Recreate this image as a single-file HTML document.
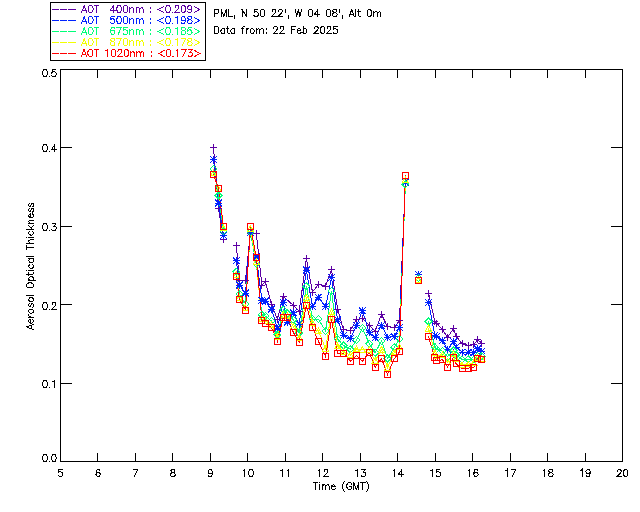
<!DOCTYPE html>
<html><head><meta charset="utf-8"><style>
html,body{margin:0;padding:0;background:#fff;width:640px;height:512px;overflow:hidden}
svg{position:absolute;left:0;top:0}
text{font-family:"Liberation Sans",sans-serif}
</style></head><body>
<svg width="640" height="512" viewBox="0 0 640 512">
<g shape-rendering="crispEdges" stroke="#000" stroke-width="1" fill="none">
<rect x="60.5" y="69.5" width="562" height="392"/>
<line x1="97.5" y1="461.5" x2="97.5" y2="452.5"/>
<line x1="97.5" y1="69.5" x2="97.5" y2="77.5"/>
<line x1="135.5" y1="461.5" x2="135.5" y2="452.5"/>
<line x1="135.5" y1="69.5" x2="135.5" y2="77.5"/>
<line x1="172.5" y1="461.5" x2="172.5" y2="452.5"/>
<line x1="172.5" y1="69.5" x2="172.5" y2="77.5"/>
<line x1="210.5" y1="461.5" x2="210.5" y2="452.5"/>
<line x1="210.5" y1="69.5" x2="210.5" y2="77.5"/>
<line x1="247.5" y1="461.5" x2="247.5" y2="452.5"/>
<line x1="247.5" y1="69.5" x2="247.5" y2="77.5"/>
<line x1="285.5" y1="461.5" x2="285.5" y2="452.5"/>
<line x1="285.5" y1="69.5" x2="285.5" y2="77.5"/>
<line x1="322.5" y1="461.5" x2="322.5" y2="452.5"/>
<line x1="322.5" y1="69.5" x2="322.5" y2="77.5"/>
<line x1="360.5" y1="461.5" x2="360.5" y2="452.5"/>
<line x1="360.5" y1="69.5" x2="360.5" y2="77.5"/>
<line x1="397.5" y1="461.5" x2="397.5" y2="452.5"/>
<line x1="397.5" y1="69.5" x2="397.5" y2="77.5"/>
<line x1="435.5" y1="461.5" x2="435.5" y2="452.5"/>
<line x1="435.5" y1="69.5" x2="435.5" y2="77.5"/>
<line x1="472.5" y1="461.5" x2="472.5" y2="452.5"/>
<line x1="472.5" y1="69.5" x2="472.5" y2="77.5"/>
<line x1="510.5" y1="461.5" x2="510.5" y2="452.5"/>
<line x1="510.5" y1="69.5" x2="510.5" y2="77.5"/>
<line x1="547.5" y1="461.5" x2="547.5" y2="452.5"/>
<line x1="547.5" y1="69.5" x2="547.5" y2="77.5"/>
<line x1="585.5" y1="461.5" x2="585.5" y2="452.5"/>
<line x1="585.5" y1="69.5" x2="585.5" y2="77.5"/>
<line x1="60.5" y1="383.5" x2="71.5" y2="383.5"/>
<line x1="622.5" y1="383.5" x2="610.5" y2="383.5"/>
<line x1="60.5" y1="304.5" x2="71.5" y2="304.5"/>
<line x1="622.5" y1="304.5" x2="610.5" y2="304.5"/>
<line x1="60.5" y1="226.5" x2="71.5" y2="226.5"/>
<line x1="622.5" y1="226.5" x2="610.5" y2="226.5"/>
<line x1="60.5" y1="147.5" x2="71.5" y2="147.5"/>
<line x1="622.5" y1="147.5" x2="610.5" y2="147.5"/>
<rect x="50.5" y="2.5" width="155" height="58"/>
</g>
<g fill="none" stroke-width="1" shape-rendering="crispEdges">
<polyline points="213.5,147.5 218.5,208.5 223.5,239.0" stroke="#5c00a3"/>
<polyline points="236.3,245.4 239.4,280.0 245.5,280.5 250.4,233.0 256.3,233.5 261.9,285.5 265.3,281.4 271.4,304.0 277.4,319.3 283.3,296.4 293.4,305.5 299.2,311.0 306.4,258.5 312.4,292.0 318.4,284.4 325.6,286.2 331.5,269.4 337.6,309.1 343.5,329.75 350.4,330.4 356.5,319.75 362.4,318.5 369.3,325.4 375.2,331.0 381.5,314.5 387.5,326.6 394.3,327.9 399.5,320.4 405.4,182.0" stroke="#5c00a3"/>
<polyline points="428.5,293.25 434.8,321.4 436.6,323.0 442.4,329.6 447.5,337.3 453.6,328.6 456.0,336.0 462.0,343.9 468.2,345.4 473.9,344.8 477.5,339.6 481.8,343.2" stroke="#5c00a3"/>
<polyline points="213.5,159.4 218.5,203.0 223.5,235.4" stroke="#0022ff"/>
<polyline points="236.3,260.6 239.4,285.0 245.5,293.2 250.4,232.6 256.3,257.0 261.9,300.2 265.3,301.0 271.4,309.2 277.4,328.0 283.3,302.3 287.4,322.2 293.4,312.8 299.2,324.0 306.4,270.0 312.4,306.6 318.4,297.3 325.6,306.6 331.5,277.25 337.6,319.75 343.5,335.4 350.4,338.5 356.5,325.7 362.4,310.75 369.3,332.9 375.2,337.9 381.5,325.4 387.5,337.25 394.3,336.6 399.5,327.25 405.4,182.25" stroke="#0022ff"/>
<polyline points="428.5,302.25 434.8,335.0 436.6,336.6 442.4,340.6 447.5,349.7 453.6,341.8 456.0,347.0 462.0,352.1 468.2,352.4 473.9,352.8 477.5,348.8 481.8,351.0" stroke="#0022ff"/>
<polyline points="213.5,169.0 218.5,195.5 223.5,231.0" stroke="#00ff78"/>
<polyline points="236.3,271.9 239.4,294.0 245.5,303.9 250.4,232.0 256.3,264.0 261.9,314.75 265.3,316.0 271.4,321.0 277.4,334.75 283.3,309.75 287.4,313.5 293.4,319.75 299.2,333.0 306.4,286.25 312.4,319.0 318.4,319.1 325.6,331.0 331.5,291.25 337.6,339.0 343.5,345.5 350.4,349.25 356.5,339.9 362.4,327.9 369.3,343.9 375.2,352.7 381.5,340.8 387.5,358.5 394.3,347.4 399.5,339.1 405.4,184.4" stroke="#00ff78"/>
<polyline points="428.5,321.5 434.8,347.0 436.6,349.0 442.4,351.0 447.5,356.75 453.6,350.5 456.0,355.0 462.0,359.4 468.2,359.4 473.9,359.4 477.5,355.8 481.8,356.2" stroke="#00ff78"/>
<polyline points="213.5,173.0 218.5,189.0 223.5,228.0" stroke="#f2ff00"/>
<polyline points="236.3,275.0 239.4,298.0 245.5,308.0 250.4,228.5 256.3,262.0 261.9,319.0 265.3,321.0 271.4,325.0 277.4,337.25 283.3,315.0 287.4,316.0 293.4,326.6 299.2,338.0 306.4,297.5 312.4,323.0 318.4,331.0 325.6,348.5 331.5,312.25 337.6,346.0 343.5,352.0 350.4,355.0 356.5,348.9 362.4,349.6 369.3,350.0 375.2,360.6 381.5,349.6 387.5,367.5 394.3,352.3 399.5,347.0 405.4,180.0" stroke="#f2ff00"/>
<polyline points="428.5,328.5 434.8,353.0 436.6,356.0 442.4,355.0 447.5,361.75 453.6,354.0 456.0,359.0 462.0,365.0 468.2,364.4 473.9,362.8 477.5,358.0 481.8,358.5" stroke="#f2ff00"/>
<polyline points="213.5,174.4 218.5,188.4 223.5,226.4" stroke="#ff0000"/>
<polyline points="236.3,276.2 239.4,299.4 245.5,310.1 250.4,226.3 256.3,257.4 261.9,320.2 265.3,323.2 271.4,327.2 277.4,341.0 283.3,317.4 287.4,317.4 293.4,332.4 299.2,342.0 306.4,305.3 312.4,327.3 318.4,341.1 325.6,356.6 331.5,319.1 337.6,353.9 343.5,353.1 350.4,361.25 356.5,355.8 362.4,361.25 369.3,352.4 375.2,367.25 381.5,358.5 387.5,374.4 394.3,358.7 399.5,351.8 405.4,175.25" stroke="#ff0000"/>
<polyline points="428.5,336.5 434.8,357.8 436.6,360.8 442.4,359.8 447.5,367.0 453.6,357.1 456.0,363.7 462.0,368.9 468.2,368.2 473.9,367.2 477.5,358.4 481.8,359.1" stroke="#ff0000"/>
<path stroke="#5c00a3" d="M210.0,147.5H217.0M213.5,144.0V151.0M215.0,208.5H222.0M218.5,205.0V212.0M220.0,239.0H227.0M223.5,235.5V242.5"/>
<path stroke="#5c00a3" d="M232.8,245.4H239.8M236.3,241.9V248.9M235.9,280.0H242.9M239.4,276.5V283.5M242.0,280.5H249.0M245.5,277.0V284.0M246.9,233.0H253.9M250.4,229.5V236.5M252.8,233.5H259.8M256.3,230.0V237.0M258.4,285.5H265.4M261.9,282.0V289.0M261.8,281.4H268.8M265.3,277.9V284.9M267.9,304.0H274.9M271.4,300.5V307.5M273.9,319.3H280.9M277.4,315.8V322.8M279.8,296.4H286.8M283.3,292.9V299.9M289.9,305.5H296.9M293.4,302.0V309.0M295.7,311.0H302.7M299.2,307.5V314.5M302.9,258.5H309.9M306.4,255.0V262.0M308.9,292.0H315.9M312.4,288.5V295.5M314.9,284.4H321.9M318.4,280.9V287.9M322.1,286.2H329.1M325.6,282.7V289.7M328.0,269.4H335.0M331.5,265.9V272.9M334.1,309.1H341.1M337.6,305.6V312.6M340.0,329.75H347.0M343.5,326.25V333.25M346.9,330.4H353.9M350.4,326.9V333.9M353.0,319.75H360.0M356.5,316.25V323.25M358.9,318.5H365.9M362.4,315.0V322.0M365.8,325.4H372.8M369.3,321.9V328.9M371.7,331.0H378.7M375.2,327.5V334.5M378.0,314.5H385.0M381.5,311.0V318.0M384.0,326.6H391.0M387.5,323.1V330.1M390.8,327.9H397.8M394.3,324.4V331.4M396.0,320.4H403.0M399.5,316.9V323.9M401.9,182.0H408.9M405.4,178.5V185.5"/>
<path stroke="#5c00a3" d="M414.75,274.0H421.75M418.25,270.5V277.5"/>
<path stroke="#5c00a3" d="M425.0,293.25H432.0M428.5,289.75V296.75M431.3,321.4H438.3M434.8,317.9V324.9M433.1,323.0H440.1M436.6,319.5V326.5M438.9,329.6H445.9M442.4,326.1V333.1M444.0,337.3H451.0M447.5,333.8V340.8M450.1,328.6H457.1M453.6,325.1V332.1M452.5,336.0H459.5M456.0,332.5V339.5M458.5,343.9H465.5M462.0,340.4V347.4M464.7,345.4H471.7M468.2,341.9V348.9M470.4,344.8H477.4M473.9,341.3V348.3M474.0,339.6H481.0M477.5,336.1V343.1M478.3,343.2H485.3M481.8,339.7V346.7"/>
<path stroke="#0022ff" d="M210.0,159.4H217.0M213.5,155.9V162.9M210.1,156.0L216.9,162.8M210.1,162.8L216.9,156.0M215.0,203.0H222.0M218.5,199.5V206.5M215.1,199.6L221.9,206.4M215.1,206.4L221.9,199.6M220.0,235.4H227.0M223.5,231.9V238.9M220.1,232.0L226.9,238.8M220.1,238.8L226.9,232.0"/>
<path stroke="#0022ff" d="M232.8,260.6H239.8M236.3,257.1V264.1M232.9,257.20000000000005L239.70000000000002,264.0M232.9,264.0L239.70000000000002,257.20000000000005M235.9,285.0H242.9M239.4,281.5V288.5M236.0,281.6L242.8,288.4M236.0,288.4L242.8,281.6M242.0,293.2H249.0M245.5,289.7V296.7M242.1,289.8L248.9,296.59999999999997M242.1,296.59999999999997L248.9,289.8M246.9,232.6H253.9M250.4,229.1V236.1M247.0,229.2L253.8,236.0M247.0,236.0L253.8,229.2M252.8,257.0H259.8M256.3,253.5V260.5M252.9,253.6L259.7,260.4M252.9,260.4L259.7,253.6M258.4,300.2H265.4M261.9,296.7V303.7M258.5,296.8L265.29999999999995,303.59999999999997M258.5,303.59999999999997L265.29999999999995,296.8M261.8,301.0H268.8M265.3,297.5V304.5M261.90000000000003,297.6L268.7,304.4M261.90000000000003,304.4L268.7,297.6M267.9,309.2H274.9M271.4,305.7V312.7M268.0,305.8L274.79999999999995,312.59999999999997M268.0,312.59999999999997L274.79999999999995,305.8M273.9,328.0H280.9M277.4,324.5V331.5M274.0,324.6L280.79999999999995,331.4M274.0,331.4L280.79999999999995,324.6M279.8,302.3H286.8M283.3,298.8V305.8M279.90000000000003,298.90000000000003L286.7,305.7M279.90000000000003,305.7L286.7,298.90000000000003M283.9,322.2H290.9M287.4,318.7V325.7M284.0,318.8L290.79999999999995,325.59999999999997M284.0,325.59999999999997L290.79999999999995,318.8M289.9,312.8H296.9M293.4,309.3V316.3M290.0,309.40000000000003L296.79999999999995,316.2M290.0,316.2L296.79999999999995,309.40000000000003M295.7,324.0H302.7M299.2,320.5V327.5M295.8,320.6L302.59999999999997,327.4M295.8,327.4L302.59999999999997,320.6M302.9,270.0H309.9M306.4,266.5V273.5M303.0,266.6L309.79999999999995,273.4M303.0,273.4L309.79999999999995,266.6M308.9,306.6H315.9M312.4,303.1V310.1M309.0,303.20000000000005L315.79999999999995,310.0M309.0,310.0L315.79999999999995,303.20000000000005M314.9,297.3H321.9M318.4,293.8V300.8M315.0,293.90000000000003L321.79999999999995,300.7M315.0,300.7L321.79999999999995,293.90000000000003M322.1,306.6H329.1M325.6,303.1V310.1M322.20000000000005,303.20000000000005L329.0,310.0M322.20000000000005,310.0L329.0,303.20000000000005M328.0,277.25H335.0M331.5,273.75V280.75M328.1,273.85L334.9,280.65M328.1,280.65L334.9,273.85M334.1,319.75H341.1M337.6,316.25V323.25M334.20000000000005,316.35L341.0,323.15M334.20000000000005,323.15L341.0,316.35M340.0,335.4H347.0M343.5,331.9V338.9M340.1,332.0L346.9,338.79999999999995M340.1,338.79999999999995L346.9,332.0M346.9,338.5H353.9M350.4,335.0V342.0M347.0,335.1L353.79999999999995,341.9M347.0,341.9L353.79999999999995,335.1M353.0,325.7H360.0M356.5,322.2V329.2M353.1,322.3L359.9,329.09999999999997M353.1,329.09999999999997L359.9,322.3M358.9,310.75H365.9M362.4,307.25V314.25M359.0,307.35L365.79999999999995,314.15M359.0,314.15L365.79999999999995,307.35M365.8,332.9H372.8M369.3,329.4V336.4M365.90000000000003,329.5L372.7,336.29999999999995M365.90000000000003,336.29999999999995L372.7,329.5M371.7,337.9H378.7M375.2,334.4V341.4M371.8,334.5L378.59999999999997,341.29999999999995M371.8,341.29999999999995L378.59999999999997,334.5M378.0,325.4H385.0M381.5,321.9V328.9M378.1,322.0L384.9,328.79999999999995M378.1,328.79999999999995L384.9,322.0M384.0,337.25H391.0M387.5,333.75V340.75M384.1,333.85L390.9,340.65M384.1,340.65L390.9,333.85M390.8,336.6H397.8M394.3,333.1V340.1M390.90000000000003,333.20000000000005L397.7,340.0M390.90000000000003,340.0L397.7,333.20000000000005M396.0,327.25H403.0M399.5,323.75V330.75M396.1,323.85L402.9,330.65M396.1,330.65L402.9,323.85M401.9,182.25H408.9M405.4,178.75V185.75M402.0,178.85L408.79999999999995,185.65M402.0,185.65L408.79999999999995,178.85"/>
<path stroke="#0022ff" d="M414.75,274.5H421.75M418.25,271.0V278.0M414.85,271.1L421.65,277.9M414.85,277.9L421.65,271.1"/>
<path stroke="#0022ff" d="M425.0,302.25H432.0M428.5,298.75V305.75M425.1,298.85L431.9,305.65M425.1,305.65L431.9,298.85M431.3,335.0H438.3M434.8,331.5V338.5M431.40000000000003,331.6L438.2,338.4M431.40000000000003,338.4L438.2,331.6M433.1,336.6H440.1M436.6,333.1V340.1M433.20000000000005,333.20000000000005L440.0,340.0M433.20000000000005,340.0L440.0,333.20000000000005M438.9,340.6H445.9M442.4,337.1V344.1M439.0,337.20000000000005L445.79999999999995,344.0M439.0,344.0L445.79999999999995,337.20000000000005M444.0,349.7H451.0M447.5,346.2V353.2M444.1,346.3L450.9,353.09999999999997M444.1,353.09999999999997L450.9,346.3M450.1,341.8H457.1M453.6,338.3V345.3M450.20000000000005,338.40000000000003L457.0,345.2M450.20000000000005,345.2L457.0,338.40000000000003M452.5,347.0H459.5M456.0,343.5V350.5M452.6,343.6L459.4,350.4M452.6,350.4L459.4,343.6M458.5,352.1H465.5M462.0,348.6V355.6M458.6,348.70000000000005L465.4,355.5M458.6,355.5L465.4,348.70000000000005M464.7,352.4H471.7M468.2,348.9V355.9M464.8,349.0L471.59999999999997,355.79999999999995M464.8,355.79999999999995L471.59999999999997,349.0M470.4,352.8H477.4M473.9,349.3V356.3M470.5,349.40000000000003L477.29999999999995,356.2M470.5,356.2L477.29999999999995,349.40000000000003M474.0,348.8H481.0M477.5,345.3V352.3M474.1,345.40000000000003L480.9,352.2M474.1,352.2L480.9,345.40000000000003M478.3,351.0H485.3M481.8,347.5V354.5M478.40000000000003,347.6L485.2,354.4M478.40000000000003,354.4L485.2,347.6"/>
<path stroke="#00ff78" d="M210.0,169.0L213.5,165.5L217.0,169.0L213.5,172.5ZM215.0,195.5L218.5,192.0L222.0,195.5L218.5,199.0ZM220.0,231.0L223.5,227.5L227.0,231.0L223.5,234.5Z"/>
<path stroke="#00ff78" d="M232.8,271.9L236.3,268.4L239.8,271.9L236.3,275.4ZM235.9,294.0L239.4,290.5L242.9,294.0L239.4,297.5ZM242.0,303.9L245.5,300.4L249.0,303.9L245.5,307.4ZM246.9,232.0L250.4,228.5L253.9,232.0L250.4,235.5ZM252.8,264.0L256.3,260.5L259.8,264.0L256.3,267.5ZM258.4,314.75L261.9,311.25L265.4,314.75L261.9,318.25ZM261.8,316.0L265.3,312.5L268.8,316.0L265.3,319.5ZM267.9,321.0L271.4,317.5L274.9,321.0L271.4,324.5ZM273.9,334.75L277.4,331.25L280.9,334.75L277.4,338.25ZM279.8,309.75L283.3,306.25L286.8,309.75L283.3,313.25ZM283.9,313.5L287.4,310.0L290.9,313.5L287.4,317.0ZM289.9,319.75L293.4,316.25L296.9,319.75L293.4,323.25ZM295.7,333.0L299.2,329.5L302.7,333.0L299.2,336.5ZM302.9,286.25L306.4,282.75L309.9,286.25L306.4,289.75ZM308.9,319.0L312.4,315.5L315.9,319.0L312.4,322.5ZM314.9,319.1L318.4,315.6L321.9,319.1L318.4,322.6ZM322.1,331.0L325.6,327.5L329.1,331.0L325.6,334.5ZM328.0,291.25L331.5,287.75L335.0,291.25L331.5,294.75ZM334.1,339.0L337.6,335.5L341.1,339.0L337.6,342.5ZM340.0,345.5L343.5,342.0L347.0,345.5L343.5,349.0ZM346.9,349.25L350.4,345.75L353.9,349.25L350.4,352.75ZM353.0,339.9L356.5,336.4L360.0,339.9L356.5,343.4ZM358.9,327.9L362.4,324.4L365.9,327.9L362.4,331.4ZM365.8,343.9L369.3,340.4L372.8,343.9L369.3,347.4ZM371.7,352.7L375.2,349.2L378.7,352.7L375.2,356.2ZM378.0,340.8L381.5,337.3L385.0,340.8L381.5,344.3ZM384.0,358.5L387.5,355.0L391.0,358.5L387.5,362.0ZM390.8,347.4L394.3,343.9L397.8,347.4L394.3,350.9ZM396.0,339.1L399.5,335.6L403.0,339.1L399.5,342.6ZM401.9,184.4L405.4,180.9L408.9,184.4L405.4,187.9Z"/>
<path stroke="#00ff78" d="M414.75,278.0L418.25,274.5L421.75,278.0L418.25,281.5Z"/>
<path stroke="#00ff78" d="M425.0,321.5L428.5,318.0L432.0,321.5L428.5,325.0ZM431.3,347.0L434.8,343.5L438.3,347.0L434.8,350.5ZM433.1,349.0L436.6,345.5L440.1,349.0L436.6,352.5ZM438.9,351.0L442.4,347.5L445.9,351.0L442.4,354.5ZM444.0,356.75L447.5,353.25L451.0,356.75L447.5,360.25ZM450.1,350.5L453.6,347.0L457.1,350.5L453.6,354.0ZM452.5,355.0L456.0,351.5L459.5,355.0L456.0,358.5ZM458.5,359.4L462.0,355.9L465.5,359.4L462.0,362.9ZM464.7,359.4L468.2,355.9L471.7,359.4L468.2,362.9ZM470.4,359.4L473.9,355.9L477.4,359.4L473.9,362.9ZM474.0,355.8L477.5,352.3L481.0,355.8L477.5,359.3ZM478.3,356.2L481.8,352.7L485.3,356.2L481.8,359.7Z"/>
<path stroke="#f2ff00" d="M210.5,175.5L213.5,170.0L216.5,175.5ZM215.5,191.5L218.5,186.0L221.5,191.5ZM220.5,230.5L223.5,225.0L226.5,230.5Z"/>
<path stroke="#f2ff00" d="M233.3,277.5L236.3,272.0L239.3,277.5ZM236.4,300.5L239.4,295.0L242.4,300.5ZM242.5,310.5L245.5,305.0L248.5,310.5ZM247.4,231.0L250.4,225.5L253.4,231.0ZM253.3,264.5L256.3,259.0L259.3,264.5ZM258.9,321.5L261.9,316.0L264.9,321.5ZM262.3,323.5L265.3,318.0L268.3,323.5ZM268.4,327.5L271.4,322.0L274.4,327.5ZM274.4,339.75L277.4,334.25L280.4,339.75ZM280.3,317.5L283.3,312.0L286.3,317.5ZM284.4,318.5L287.4,313.0L290.4,318.5ZM290.4,329.1L293.4,323.6L296.4,329.1ZM296.2,340.5L299.2,335.0L302.2,340.5ZM303.4,300.0L306.4,294.5L309.4,300.0ZM309.4,325.5L312.4,320.0L315.4,325.5ZM315.4,333.5L318.4,328.0L321.4,333.5ZM322.6,351.0L325.6,345.5L328.6,351.0ZM328.5,314.75L331.5,309.25L334.5,314.75ZM334.6,348.5L337.6,343.0L340.6,348.5ZM340.5,354.5L343.5,349.0L346.5,354.5ZM347.4,357.5L350.4,352.0L353.4,357.5ZM353.5,351.4L356.5,345.9L359.5,351.4ZM359.4,352.1L362.4,346.6L365.4,352.1ZM366.3,352.5L369.3,347.0L372.3,352.5ZM372.2,363.1L375.2,357.6L378.2,363.1ZM378.5,352.1L381.5,346.6L384.5,352.1ZM384.5,370.0L387.5,364.5L390.5,370.0ZM391.3,354.8L394.3,349.3L397.3,354.8ZM396.5,349.5L399.5,344.0L402.5,349.5ZM402.4,182.5L405.4,177.0L408.4,182.5Z"/>
<path stroke="#f2ff00" d="M415.25,282.5L418.25,277.0L421.25,282.5Z"/>
<path stroke="#f2ff00" d="M425.5,331.0L428.5,325.5L431.5,331.0ZM431.8,355.5L434.8,350.0L437.8,355.5ZM433.6,358.5L436.6,353.0L439.6,358.5ZM439.4,357.5L442.4,352.0L445.4,357.5ZM444.5,364.25L447.5,358.75L450.5,364.25ZM450.6,356.5L453.6,351.0L456.6,356.5ZM453.0,361.5L456.0,356.0L459.0,361.5ZM459.0,367.5L462.0,362.0L465.0,367.5ZM465.2,366.9L468.2,361.4L471.2,366.9ZM470.9,365.3L473.9,359.8L476.9,365.3ZM474.5,360.5L477.5,355.0L480.5,360.5ZM478.8,361.0L481.8,355.5L484.8,361.0Z"/>
<path stroke="#ff0000" d="M210.5,171.4h6v6h-6ZM215.5,185.4h6v6h-6ZM220.5,223.4h6v6h-6Z"/>
<path stroke="#ff0000" d="M233.3,273.2h6v6h-6ZM236.4,296.4h6v6h-6ZM242.5,307.1h6v6h-6ZM247.4,223.3h6v6h-6ZM253.3,254.39999999999998h6v6h-6ZM258.9,317.2h6v6h-6ZM262.3,320.2h6v6h-6ZM268.4,324.2h6v6h-6ZM274.4,338.0h6v6h-6ZM280.3,314.4h6v6h-6ZM284.4,314.4h6v6h-6ZM290.4,329.4h6v6h-6ZM296.2,339.0h6v6h-6ZM303.4,302.3h6v6h-6ZM309.4,324.3h6v6h-6ZM315.4,338.1h6v6h-6ZM322.6,353.6h6v6h-6ZM328.5,316.1h6v6h-6ZM334.6,350.9h6v6h-6ZM340.5,350.1h6v6h-6ZM347.4,358.25h6v6h-6ZM353.5,352.8h6v6h-6ZM359.4,358.25h6v6h-6ZM366.3,349.4h6v6h-6ZM372.2,364.25h6v6h-6ZM378.5,355.5h6v6h-6ZM384.5,371.4h6v6h-6ZM391.3,355.7h6v6h-6ZM396.5,348.8h6v6h-6ZM402.4,172.25h6v6h-6Z"/>
<path stroke="#ff0000" d="M415.25,277.75h6v6h-6Z"/>
<path stroke="#ff0000" d="M425.5,333.5h6v6h-6ZM431.8,354.8h6v6h-6ZM433.6,357.8h6v6h-6ZM439.4,356.8h6v6h-6ZM444.5,364.0h6v6h-6ZM450.6,354.1h6v6h-6ZM453.0,360.7h6v6h-6ZM459.0,365.9h6v6h-6ZM465.2,365.2h6v6h-6ZM470.9,364.2h6v6h-6ZM474.5,355.4h6v6h-6ZM478.8,356.1h6v6h-6Z"/>
</g>
<g fill="none" stroke-width="1" stroke-linecap="square" shape-rendering="crispEdges"><path stroke="#000" d="M44.66,454.50L43.70,454.83L43.06,455.83L42.74,457.50L42.74,458.50L43.06,460.17L43.70,461.17L44.66,461.50L45.30,461.50L46.26,461.17L46.90,460.17L47.22,458.50L47.22,457.50L46.90,455.83L46.26,454.83L45.30,454.50L44.66,454.50M49.14,461.50L49.78,461.50M53.62,454.50L52.66,454.83L52.02,455.83L51.70,457.50L51.70,458.50L52.02,460.17L52.66,461.17L53.62,461.50L54.26,461.50L55.22,461.17L55.86,460.17L56.18,458.50L56.18,457.50L55.86,455.83L55.22,454.83L54.26,454.50L53.62,454.50"/>
<path stroke="#000" d="M44.66,380.50L43.70,380.83L43.06,381.83L42.74,383.50L42.74,384.50L43.06,386.17L43.70,387.17L44.66,387.50L45.30,387.50L46.26,387.17L46.90,386.17L47.22,384.50L47.22,383.50L46.90,381.83L46.26,380.83L45.30,380.50L44.66,380.50M49.14,387.50L49.78,387.50M52.66,381.83L53.30,381.50L54.26,380.50L54.26,387.50"/>
<path stroke="#000" d="M44.66,302.50L43.70,302.83L43.06,303.83L42.74,305.50L42.74,306.50L43.06,308.17L43.70,309.17L44.66,309.50L45.30,309.50L46.26,309.17L46.90,308.17L47.22,306.50L47.22,305.50L46.90,303.83L46.26,302.83L45.30,302.50L44.66,302.50M49.14,309.50L49.78,309.50M52.02,304.17L52.02,303.83L52.34,303.17L52.66,302.83L53.30,302.50L54.58,302.50L55.22,302.83L55.54,303.17L55.86,303.83L55.86,304.50L55.54,305.17L54.90,306.17L51.70,309.50L56.18,309.50"/>
<path stroke="#000" d="M44.66,223.50L43.70,223.83L43.06,224.83L42.74,226.50L42.74,227.50L43.06,229.17L43.70,230.17L44.66,230.50L45.30,230.50L46.26,230.17L46.90,229.17L47.22,227.50L47.22,226.50L46.90,224.83L46.26,223.83L45.30,223.50L44.66,223.50M49.14,230.50L49.78,230.50M52.34,223.50L55.86,223.50L53.94,226.17L54.90,226.17L55.54,226.50L55.86,226.83L56.18,227.83L56.18,228.50L55.86,229.50L55.22,230.17L54.26,230.50L53.30,230.50L52.34,230.17L52.02,229.83L51.70,229.17"/>
<path stroke="#000" d="M44.66,144.50L43.70,144.83L43.06,145.83L42.74,147.50L42.74,148.50L43.06,150.17L43.70,151.17L44.66,151.50L45.30,151.50L46.26,151.17L46.90,150.17L47.22,148.50L47.22,147.50L46.90,145.83L46.26,144.83L45.30,144.50L44.66,144.50M49.14,151.50L49.78,151.50M54.90,144.50L51.70,149.17L56.50,149.17M54.90,144.50L54.90,151.50"/>
<path stroke="#000" d="M44.66,69.50L43.70,69.83L43.06,70.83L42.74,72.50L42.74,73.50L43.06,75.17L43.70,76.17L44.66,76.50L45.30,76.50L46.26,76.17L46.90,75.17L47.22,73.50L47.22,72.50L46.90,70.83L46.26,69.83L45.30,69.50L44.66,69.50M49.14,76.50L49.78,76.50M55.54,69.50L52.34,69.50L52.02,72.50L52.34,72.17L53.30,71.83L54.26,71.83L55.22,72.17L55.86,72.83L56.18,73.83L56.18,74.50L55.86,75.50L55.22,76.17L54.26,76.50L53.30,76.50L52.34,76.17L52.02,75.83L51.70,75.17"/>
<path stroke="#000" d="M62.10,469.50L58.90,469.50L58.58,472.50L58.90,472.17L59.86,471.83L60.82,471.83L61.78,472.17L62.42,472.83L62.74,473.83L62.74,474.50L62.42,475.50L61.78,476.17L60.82,476.50L59.86,476.50L58.90,476.17L58.58,475.83L58.26,475.17"/>
<path stroke="#000" d="M99.89,470.50L99.57,469.83L98.61,469.50L97.97,469.50L97.01,469.83L96.37,470.83L96.05,472.50L96.05,474.17L96.37,475.50L97.01,476.17L97.97,476.50L98.29,476.50L99.25,476.17L99.89,475.50L100.21,474.50L100.21,474.17L99.89,473.17L99.25,472.50L98.29,472.17L97.97,472.17L97.01,472.50L96.37,473.17L96.05,474.17"/>
<path stroke="#000" d="M137.67,469.50L134.47,476.50M133.19,469.50L137.67,469.50"/>
<path stroke="#000" d="M172.26,469.50L171.30,469.83L170.98,470.50L170.98,471.17L171.30,471.83L171.94,472.17L173.22,472.50L174.18,472.83L174.82,473.50L175.14,474.17L175.14,475.17L174.82,475.83L174.50,476.17L173.54,476.50L172.26,476.50L171.30,476.17L170.98,475.83L170.66,475.17L170.66,474.17L170.98,473.50L171.62,472.83L172.58,472.50L173.86,472.17L174.50,471.83L174.82,471.17L174.82,470.50L174.50,469.83L173.54,469.50L172.26,469.50"/>
<path stroke="#000" d="M212.29,471.83L211.97,472.83L211.33,473.50L210.37,473.83L210.05,473.83L209.09,473.50L208.45,472.83L208.13,471.83L208.13,471.50L208.45,470.50L209.09,469.83L210.05,469.50L210.37,469.50L211.33,469.83L211.97,470.50L212.29,471.83L212.29,473.50L211.97,475.17L211.33,476.17L210.37,476.50L209.73,476.50L208.77,476.17L208.45,475.50"/>
<path stroke="#000" d="M243.35,470.83L243.99,470.50L244.95,469.50L244.95,476.50M250.71,469.50L249.75,469.83L249.11,470.83L248.79,472.50L248.79,473.50L249.11,475.17L249.75,476.17L250.71,476.50L251.35,476.50L252.31,476.17L252.95,475.17L253.27,473.50L253.27,472.50L252.95,470.83L252.31,469.83L251.35,469.50L250.71,469.50"/>
<path stroke="#000" d="M280.82,470.83L281.46,470.50L282.42,469.50L282.42,476.50M287.22,470.83L287.86,470.50L288.82,469.50L288.82,476.50"/>
<path stroke="#000" d="M318.29,470.83L318.93,470.50L319.89,469.50L319.89,476.50M324.05,471.17L324.05,470.83L324.37,470.17L324.69,469.83L325.33,469.50L326.61,469.50L327.25,469.83L327.57,470.17L327.89,470.83L327.89,471.50L327.57,472.17L326.93,473.17L323.73,476.50L328.21,476.50"/>
<path stroke="#000" d="M355.75,470.83L356.39,470.50L357.35,469.50L357.35,476.50M361.83,469.50L365.35,469.50L363.43,472.17L364.39,472.17L365.03,472.50L365.35,472.83L365.67,473.83L365.67,474.50L365.35,475.50L364.71,476.17L363.75,476.50L362.79,476.50L361.83,476.17L361.51,475.83L361.19,475.17"/>
<path stroke="#000" d="M393.22,470.83L393.86,470.50L394.82,469.50L394.82,476.50M401.86,469.50L398.66,474.17L403.46,474.17M401.86,469.50L401.86,476.50"/>
<path stroke="#000" d="M430.69,470.83L431.33,470.50L432.29,469.50L432.29,476.50M439.97,469.50L436.77,469.50L436.45,472.50L436.77,472.17L437.73,471.83L438.69,471.83L439.65,472.17L440.29,472.83L440.61,473.83L440.61,474.50L440.29,475.50L439.65,476.17L438.69,476.50L437.73,476.50L436.77,476.17L436.45,475.83L436.13,475.17"/>
<path stroke="#000" d="M468.15,470.83L468.79,470.50L469.75,469.50L469.75,476.50M477.75,470.50L477.43,469.83L476.47,469.50L475.83,469.50L474.87,469.83L474.23,470.83L473.91,472.50L473.91,474.17L474.23,475.50L474.87,476.17L475.83,476.50L476.15,476.50L477.11,476.17L477.75,475.50L478.07,474.50L478.07,474.17L477.75,473.17L477.11,472.50L476.15,472.17L475.83,472.17L474.87,472.50L474.23,473.17L473.91,474.17"/>
<path stroke="#000" d="M505.62,470.83L506.26,470.50L507.22,469.50L507.22,476.50M515.54,469.50L512.34,476.50M511.06,469.50L515.54,469.50"/>
<path stroke="#000" d="M543.09,470.83L543.73,470.50L544.69,469.50L544.69,476.50M550.13,469.50L549.17,469.83L548.85,470.50L548.85,471.17L549.17,471.83L549.81,472.17L551.09,472.50L552.05,472.83L552.69,473.50L553.01,474.17L553.01,475.17L552.69,475.83L552.37,476.17L551.41,476.50L550.13,476.50L549.17,476.17L548.85,475.83L548.53,475.17L548.53,474.17L548.85,473.50L549.49,472.83L550.45,472.50L551.73,472.17L552.37,471.83L552.69,471.17L552.69,470.50L552.37,469.83L551.41,469.50L550.13,469.50"/>
<path stroke="#000" d="M580.55,470.83L581.19,470.50L582.15,469.50L582.15,476.50M590.15,471.83L589.83,472.83L589.19,473.50L588.23,473.83L587.91,473.83L586.95,473.50L586.31,472.83L585.99,471.83L585.99,471.50L586.31,470.50L586.95,469.83L587.91,469.50L588.23,469.50L589.19,469.83L589.83,470.50L590.15,471.83L590.15,473.50L589.83,475.17L589.19,476.17L588.23,476.50L587.59,476.50L586.63,476.17L586.31,475.50"/>
<path stroke="#000" d="M617.38,471.17L617.38,470.83L617.70,470.17L618.02,469.83L618.66,469.50L619.94,469.50L620.58,469.83L620.90,470.17L621.22,470.83L621.22,471.50L620.90,472.17L620.26,473.17L617.06,476.50L621.54,476.50M625.38,469.50L624.42,469.83L623.78,470.83L623.46,472.50L623.46,473.50L623.78,475.17L624.42,476.17L625.38,476.50L626.02,476.50L626.98,476.17L627.62,475.17L627.94,473.50L627.94,472.50L627.62,470.83L626.98,469.83L626.02,469.50L625.38,469.50"/>
<path stroke="#000" d="M315.74,482.50L315.74,489.50M313.50,482.50L317.98,482.50M319.58,482.50L319.58,482.83M319.58,484.83L319.58,489.50M322.14,484.83L322.14,489.50M322.14,486.17L323.10,485.17L323.74,484.83L324.70,484.83L325.34,485.17L325.66,486.17L325.66,489.50M325.66,486.17L326.62,485.17L327.26,484.83L328.22,484.83L328.86,485.17L329.18,486.17L329.18,489.50M331.42,486.83L335.26,486.83L335.26,486.17L334.94,485.50L334.62,485.17L333.98,484.83L333.02,484.83L332.38,485.17L331.74,485.83L331.42,486.83L331.42,487.50L331.74,488.50L332.38,489.17L333.02,489.50L333.98,489.50L334.62,489.17L335.26,488.50M344.86,481.17L344.22,481.83L343.58,482.83L342.94,484.17L342.62,485.83L342.62,487.17L342.94,488.83L343.58,490.17L344.22,491.17L344.86,491.83M351.58,484.17L351.26,483.50L350.62,482.83L349.98,482.50L348.70,482.50L348.06,482.83L347.42,483.50L347.10,484.17L346.78,485.17L346.78,486.83L347.10,487.83L347.42,488.50L348.06,489.17L348.70,489.50L349.98,489.50L350.62,489.17L351.26,488.50L351.58,487.83L351.58,486.83M349.98,486.83L351.58,486.83M353.82,482.50L353.82,489.50M353.82,482.50L356.38,489.50M358.94,482.50L356.38,489.50M358.94,482.50L358.94,489.50M362.78,482.50L362.78,489.50M360.54,482.50L365.02,482.50M366.30,481.17L366.94,481.83L367.58,482.83L368.22,484.17L368.54,485.83L368.54,487.17L368.22,488.83L367.58,490.17L366.94,491.17L366.30,491.83"/>
<path stroke="#000" d="M214.50,9.50L214.50,16.50M214.50,9.50L217.38,9.50L218.34,9.83L218.66,10.17L218.98,10.83L218.98,11.83L218.66,12.50L218.34,12.83L217.38,13.17L214.50,13.17M221.22,9.50L221.22,16.50M221.22,9.50L223.78,16.50M226.34,9.50L223.78,16.50M226.34,9.50L226.34,16.50M228.90,9.50L228.90,16.50M228.90,16.50L232.74,16.50M234.34,15.50L234.34,18.50M242.02,9.50L242.02,16.50M242.02,9.50L246.50,16.50M246.50,9.50L246.50,16.50M257.70,9.50L254.50,9.50L254.18,12.50L254.50,12.17L255.46,11.83L256.42,11.83L257.38,12.17L258.02,12.83L258.34,13.83L258.34,14.50L258.02,15.50L257.38,16.17L256.42,16.50L255.46,16.50L254.50,16.17L254.18,15.83L253.86,15.17M262.18,9.50L261.22,9.83L260.58,10.83L260.26,12.50L260.26,13.50L260.58,15.17L261.22,16.17L262.18,16.50L262.82,16.50L263.78,16.17L264.42,15.17L264.74,13.50L264.74,12.50L264.42,10.83L263.78,9.83L262.82,9.50L262.18,9.50M272.10,11.17L272.10,10.83L272.42,10.17L272.74,9.83L273.38,9.50L274.66,9.50L275.30,9.83L275.62,10.17L275.94,10.83L275.94,11.50L275.62,12.17L274.98,13.17L271.78,16.50L276.26,16.50M278.50,11.17L278.50,10.83L278.82,10.17L279.14,9.83L279.78,9.50L281.06,9.50L281.70,9.83L282.02,10.17L282.34,10.83L282.34,11.50L282.02,12.17L281.38,13.17L278.18,16.50L282.66,16.50M285.22,9.17L285.22,12.50M288.10,15.50L288.10,18.50M295.14,9.50L296.74,16.50M298.34,9.50L296.74,16.50M298.34,9.50L299.94,16.50M301.54,9.50L299.94,16.50M310.18,9.50L309.22,9.83L308.58,10.83L308.26,12.50L308.26,13.50L308.58,15.17L309.22,16.17L310.18,16.50L310.82,16.50L311.78,16.17L312.42,15.17L312.74,13.50L312.74,12.50L312.42,10.83L311.78,9.83L310.82,9.50L310.18,9.50M317.86,9.50L314.66,14.17L319.46,14.17M317.86,9.50L317.86,16.50M328.10,9.50L327.14,9.83L326.50,10.83L326.18,12.50L326.18,13.50L326.50,15.17L327.14,16.17L328.10,16.50L328.74,16.50L329.70,16.17L330.34,15.17L330.66,13.50L330.66,12.50L330.34,10.83L329.70,9.83L328.74,9.50L328.10,9.50M334.18,9.50L333.22,9.83L332.90,10.50L332.90,11.17L333.22,11.83L333.86,12.17L335.14,12.50L336.10,12.83L336.74,13.50L337.06,14.17L337.06,15.17L336.74,15.83L336.42,16.17L335.46,16.50L334.18,16.50L333.22,16.17L332.90,15.83L332.58,15.17L332.58,14.17L332.90,13.50L333.54,12.83L334.50,12.50L335.78,12.17L336.42,11.83L336.74,11.17L336.74,10.50L336.42,9.83L335.46,9.50L334.18,9.50M339.62,9.17L339.62,12.50M342.50,15.50L342.50,18.50M351.78,9.50L349.22,16.50M351.78,9.50L354.34,16.50M350.18,14.17L353.38,14.17M355.94,9.50L355.94,16.50M358.82,9.50L358.82,15.17L359.14,16.17L359.78,16.50L360.42,16.50M357.86,11.83L360.10,11.83M369.06,9.50L368.10,9.83L367.46,10.83L367.14,12.50L367.14,13.50L367.46,15.17L368.10,16.17L369.06,16.50L369.70,16.50L370.66,16.17L371.30,15.17L371.62,13.50L371.62,12.50L371.30,10.83L370.66,9.83L369.70,9.50L369.06,9.50M373.86,11.83L373.86,16.50M373.86,13.17L374.82,12.17L375.46,11.83L376.42,11.83L377.06,12.17L377.38,13.17L377.38,16.50M377.38,13.17L378.34,12.17L378.98,11.83L379.94,11.83L380.58,12.17L380.90,13.17L380.90,16.50"/>
<path stroke="#000" d="M214.50,26.50L214.50,33.50M214.50,26.50L216.74,26.50L217.70,26.83L218.34,27.50L218.66,28.17L218.98,29.17L218.98,30.83L218.66,31.83L218.34,32.50L217.70,33.17L216.74,33.50L214.50,33.50M224.74,28.83L224.74,33.50M224.74,29.83L224.10,29.17L223.46,28.83L222.50,28.83L221.86,29.17L221.22,29.83L220.90,30.83L220.90,31.50L221.22,32.50L221.86,33.17L222.50,33.50L223.46,33.50L224.10,33.17L224.74,32.50M227.62,26.50L227.62,32.17L227.94,33.17L228.58,33.50L229.22,33.50M226.66,28.83L228.90,28.83M234.66,28.83L234.66,33.50M234.66,29.83L234.02,29.17L233.38,28.83L232.42,28.83L231.78,29.17L231.14,29.83L230.82,30.83L230.82,31.50L231.14,32.50L231.78,33.17L232.42,33.50L233.38,33.50L234.02,33.17L234.66,32.50M244.26,26.50L243.62,26.50L242.98,26.83L242.66,27.83L242.66,33.50M241.70,28.83L243.94,28.83M246.18,28.83L246.18,33.50M246.18,30.83L246.50,29.83L247.14,29.17L247.78,28.83L248.74,28.83M251.62,28.83L250.98,29.17L250.34,29.83L250.02,30.83L250.02,31.50L250.34,32.50L250.98,33.17L251.62,33.50L252.58,33.50L253.22,33.17L253.86,32.50L254.18,31.50L254.18,30.83L253.86,29.83L253.22,29.17L252.58,28.83L251.62,28.83M256.42,28.83L256.42,33.50M256.42,30.17L257.38,29.17L258.02,28.83L258.98,28.83L259.62,29.17L259.94,30.17L259.94,33.50M259.94,30.17L260.90,29.17L261.54,28.83L262.50,28.83L263.14,29.17L263.46,30.17L263.46,33.50M266.02,28.83L266.02,29.50M266.02,32.83L266.02,33.50M273.70,28.17L273.70,27.83L274.02,27.17L274.34,26.83L274.98,26.50L276.26,26.50L276.90,26.83L277.22,27.17L277.54,27.83L277.54,28.50L277.22,29.17L276.58,30.17L273.38,33.50L277.86,33.50M280.10,28.17L280.10,27.83L280.42,27.17L280.74,26.83L281.38,26.50L282.66,26.50L283.30,26.83L283.62,27.17L283.94,27.83L283.94,28.50L283.62,29.17L282.98,30.17L279.78,33.50L284.26,33.50M291.62,26.50L291.62,33.50M291.62,26.50L295.78,26.50M291.62,29.83L294.18,29.83M297.06,30.83L300.90,30.83L300.90,30.17L300.58,29.50L300.26,29.17L299.62,28.83L298.66,28.83L298.02,29.17L297.38,29.83L297.06,30.83L297.06,31.50L297.38,32.50L298.02,33.17L298.66,33.50L299.62,33.50L300.26,33.17L300.90,32.50M303.14,26.50L303.14,33.50M303.14,29.83L303.78,29.17L304.42,28.83L305.38,28.83L306.02,29.17L306.66,29.83L306.98,30.83L306.98,31.50L306.66,32.50L306.02,33.17L305.38,33.50L304.42,33.50L303.78,33.17L303.14,32.50M314.34,28.17L314.34,27.83L314.66,27.17L314.98,26.83L315.62,26.50L316.90,26.50L317.54,26.83L317.86,27.17L318.18,27.83L318.18,28.50L317.86,29.17L317.22,30.17L314.02,33.50L318.50,33.50M322.34,26.50L321.38,26.83L320.74,27.83L320.42,29.50L320.42,30.50L320.74,32.17L321.38,33.17L322.34,33.50L322.98,33.50L323.94,33.17L324.58,32.17L324.90,30.50L324.90,29.50L324.58,27.83L323.94,26.83L322.98,26.50L322.34,26.50M327.14,28.17L327.14,27.83L327.46,27.17L327.78,26.83L328.42,26.50L329.70,26.50L330.34,26.83L330.66,27.17L330.98,27.83L330.98,28.50L330.66,29.17L330.02,30.17L326.82,33.50L331.30,33.50M337.06,26.50L333.86,26.50L333.54,29.50L333.86,29.17L334.82,28.83L335.78,28.83L336.74,29.17L337.38,29.83L337.70,30.83L337.70,31.50L337.38,32.50L336.74,33.17L335.78,33.50L334.82,33.50L333.86,33.17L333.54,32.83L333.22,32.17"/>
<path stroke="#5c00a3" d="M84.18,5.50L81.62,12.50M84.18,5.50L86.74,12.50M82.58,10.17L85.78,10.17M89.94,5.50L89.30,5.83L88.66,6.50L88.34,7.17L88.02,8.17L88.02,9.83L88.34,10.83L88.66,11.50L89.30,12.17L89.94,12.50L91.22,12.50L91.86,12.17L92.50,11.50L92.82,10.83L93.14,9.83L93.14,8.17L92.82,7.17L92.50,6.50L91.86,5.83L91.22,5.50L89.94,5.50M96.66,5.50L96.66,12.50M94.42,5.50L98.90,5.50M113.62,5.50L110.42,10.17L115.22,10.17M113.62,5.50L113.62,12.50M118.74,5.50L117.78,5.83L117.14,6.83L116.82,8.50L116.82,9.50L117.14,11.17L117.78,12.17L118.74,12.50L119.38,12.50L120.34,12.17L120.98,11.17L121.30,9.50L121.30,8.50L120.98,6.83L120.34,5.83L119.38,5.50L118.74,5.50M125.14,5.50L124.18,5.83L123.54,6.83L123.22,8.50L123.22,9.50L123.54,11.17L124.18,12.17L125.14,12.50L125.78,12.50L126.74,12.17L127.38,11.17L127.70,9.50L127.70,8.50L127.38,6.83L126.74,5.83L125.78,5.50L125.14,5.50M129.94,7.83L129.94,12.50M129.94,9.17L130.90,8.17L131.54,7.83L132.50,7.83L133.14,8.17L133.46,9.17L133.46,12.50M136.02,7.83L136.02,12.50M136.02,9.17L136.98,8.17L137.62,7.83L138.58,7.83L139.22,8.17L139.54,9.17L139.54,12.50M139.54,9.17L140.50,8.17L141.14,7.83L142.10,7.83L142.74,8.17L143.06,9.17L143.06,12.50M150.74,7.83L150.74,8.50M150.74,11.83L150.74,12.50M163.54,6.50L158.42,9.50L163.54,12.50M167.70,5.50L166.74,5.83L166.10,6.83L165.78,8.50L165.78,9.50L166.10,11.17L166.74,12.17L167.70,12.50L168.34,12.50L169.30,12.17L169.94,11.17L170.26,9.50L170.26,8.50L169.94,6.83L169.30,5.83L168.34,5.50L167.70,5.50M172.18,12.50L172.82,12.50M175.06,7.17L175.06,6.83L175.38,6.17L175.70,5.83L176.34,5.50L177.62,5.50L178.26,5.83L178.58,6.17L178.90,6.83L178.90,7.50L178.58,8.17L177.94,9.17L174.74,12.50L179.22,12.50M183.06,5.50L182.10,5.83L181.46,6.83L181.14,8.50L181.14,9.50L181.46,11.17L182.10,12.17L183.06,12.50L183.70,12.50L184.66,12.17L185.30,11.17L185.62,9.50L185.62,8.50L185.30,6.83L184.66,5.83L183.70,5.50L183.06,5.50M191.70,7.83L191.38,8.83L190.74,9.50L189.78,9.83L189.46,9.83L188.50,9.50L187.86,8.83L187.54,7.83L187.54,7.50L187.86,6.50L188.50,5.83L189.46,5.50L189.78,5.50L190.74,5.83L191.38,6.50L191.70,7.83L191.70,9.50L191.38,11.17L190.74,12.17L189.78,12.50L189.14,12.50L188.18,12.17L187.86,11.50M194.26,6.50L199.38,9.50L194.26,12.50"/>
<path stroke="#5c00a3" stroke-linecap="butt" d="M52,9.5H59M60,9.5H67M68,9.5H76"/>
<path stroke="#0022ff" d="M84.18,16.50L81.62,23.50M84.18,16.50L86.74,23.50M82.58,21.17L85.78,21.17M89.94,16.50L89.30,16.83L88.66,17.50L88.34,18.17L88.02,19.17L88.02,20.83L88.34,21.83L88.66,22.50L89.30,23.17L89.94,23.50L91.22,23.50L91.86,23.17L92.50,22.50L92.82,21.83L93.14,20.83L93.14,19.17L92.82,18.17L92.50,17.50L91.86,16.83L91.22,16.50L89.94,16.50M96.66,16.50L96.66,23.50M94.42,16.50L98.90,16.50M114.26,16.50L111.06,16.50L110.74,19.50L111.06,19.17L112.02,18.83L112.98,18.83L113.94,19.17L114.58,19.83L114.90,20.83L114.90,21.50L114.58,22.50L113.94,23.17L112.98,23.50L112.02,23.50L111.06,23.17L110.74,22.83L110.42,22.17M118.74,16.50L117.78,16.83L117.14,17.83L116.82,19.50L116.82,20.50L117.14,22.17L117.78,23.17L118.74,23.50L119.38,23.50L120.34,23.17L120.98,22.17L121.30,20.50L121.30,19.50L120.98,17.83L120.34,16.83L119.38,16.50L118.74,16.50M125.14,16.50L124.18,16.83L123.54,17.83L123.22,19.50L123.22,20.50L123.54,22.17L124.18,23.17L125.14,23.50L125.78,23.50L126.74,23.17L127.38,22.17L127.70,20.50L127.70,19.50L127.38,17.83L126.74,16.83L125.78,16.50L125.14,16.50M129.94,18.83L129.94,23.50M129.94,20.17L130.90,19.17L131.54,18.83L132.50,18.83L133.14,19.17L133.46,20.17L133.46,23.50M136.02,18.83L136.02,23.50M136.02,20.17L136.98,19.17L137.62,18.83L138.58,18.83L139.22,19.17L139.54,20.17L139.54,23.50M139.54,20.17L140.50,19.17L141.14,18.83L142.10,18.83L142.74,19.17L143.06,20.17L143.06,23.50M150.74,18.83L150.74,19.50M150.74,22.83L150.74,23.50M163.54,17.50L158.42,20.50L163.54,23.50M167.70,16.50L166.74,16.83L166.10,17.83L165.78,19.50L165.78,20.50L166.10,22.17L166.74,23.17L167.70,23.50L168.34,23.50L169.30,23.17L169.94,22.17L170.26,20.50L170.26,19.50L169.94,17.83L169.30,16.83L168.34,16.50L167.70,16.50M172.18,23.50L172.82,23.50M175.70,17.83L176.34,17.50L177.30,16.50L177.30,23.50M185.30,18.83L184.98,19.83L184.34,20.50L183.38,20.83L183.06,20.83L182.10,20.50L181.46,19.83L181.14,18.83L181.14,18.50L181.46,17.50L182.10,16.83L183.06,16.50L183.38,16.50L184.34,16.83L184.98,17.50L185.30,18.83L185.30,20.50L184.98,22.17L184.34,23.17L183.38,23.50L182.74,23.50L181.78,23.17L181.46,22.50M189.14,16.50L188.18,16.83L187.86,17.50L187.86,18.17L188.18,18.83L188.82,19.17L190.10,19.50L191.06,19.83L191.70,20.50L192.02,21.17L192.02,22.17L191.70,22.83L191.38,23.17L190.42,23.50L189.14,23.50L188.18,23.17L187.86,22.83L187.54,22.17L187.54,21.17L187.86,20.50L188.50,19.83L189.46,19.50L190.74,19.17L191.38,18.83L191.70,18.17L191.70,17.50L191.38,16.83L190.42,16.50L189.14,16.50M194.26,17.50L199.38,20.50L194.26,23.50"/>
<path stroke="#0022ff" stroke-linecap="butt" d="M52,20.5H59M60,20.5H67M68,20.5H76"/>
<path stroke="#00ff78" d="M84.18,27.50L81.62,34.50M84.18,27.50L86.74,34.50M82.58,32.17L85.78,32.17M89.94,27.50L89.30,27.83L88.66,28.50L88.34,29.17L88.02,30.17L88.02,31.83L88.34,32.83L88.66,33.50L89.30,34.17L89.94,34.50L91.22,34.50L91.86,34.17L92.50,33.50L92.82,32.83L93.14,31.83L93.14,30.17L92.82,29.17L92.50,28.50L91.86,27.83L91.22,27.50L89.94,27.50M96.66,27.50L96.66,34.50M94.42,27.50L98.90,27.50M114.58,28.50L114.26,27.83L113.30,27.50L112.66,27.50L111.70,27.83L111.06,28.83L110.74,30.50L110.74,32.17L111.06,33.50L111.70,34.17L112.66,34.50L112.98,34.50L113.94,34.17L114.58,33.50L114.90,32.50L114.90,32.17L114.58,31.17L113.94,30.50L112.98,30.17L112.66,30.17L111.70,30.50L111.06,31.17L110.74,32.17M121.30,27.50L118.10,34.50M116.82,27.50L121.30,27.50M127.06,27.50L123.86,27.50L123.54,30.50L123.86,30.17L124.82,29.83L125.78,29.83L126.74,30.17L127.38,30.83L127.70,31.83L127.70,32.50L127.38,33.50L126.74,34.17L125.78,34.50L124.82,34.50L123.86,34.17L123.54,33.83L123.22,33.17M129.94,29.83L129.94,34.50M129.94,31.17L130.90,30.17L131.54,29.83L132.50,29.83L133.14,30.17L133.46,31.17L133.46,34.50M136.02,29.83L136.02,34.50M136.02,31.17L136.98,30.17L137.62,29.83L138.58,29.83L139.22,30.17L139.54,31.17L139.54,34.50M139.54,31.17L140.50,30.17L141.14,29.83L142.10,29.83L142.74,30.17L143.06,31.17L143.06,34.50M150.74,29.83L150.74,30.50M150.74,33.83L150.74,34.50M163.54,28.50L158.42,31.50L163.54,34.50M167.70,27.50L166.74,27.83L166.10,28.83L165.78,30.50L165.78,31.50L166.10,33.17L166.74,34.17L167.70,34.50L168.34,34.50L169.30,34.17L169.94,33.17L170.26,31.50L170.26,30.50L169.94,28.83L169.30,27.83L168.34,27.50L167.70,27.50M172.18,34.50L172.82,34.50M175.70,28.83L176.34,28.50L177.30,27.50L177.30,34.50M182.74,27.50L181.78,27.83L181.46,28.50L181.46,29.17L181.78,29.83L182.42,30.17L183.70,30.50L184.66,30.83L185.30,31.50L185.62,32.17L185.62,33.17L185.30,33.83L184.98,34.17L184.02,34.50L182.74,34.50L181.78,34.17L181.46,33.83L181.14,33.17L181.14,32.17L181.46,31.50L182.10,30.83L183.06,30.50L184.34,30.17L184.98,29.83L185.30,29.17L185.30,28.50L184.98,27.83L184.02,27.50L182.74,27.50M191.38,27.50L188.18,27.50L187.86,30.50L188.18,30.17L189.14,29.83L190.10,29.83L191.06,30.17L191.70,30.83L192.02,31.83L192.02,32.50L191.70,33.50L191.06,34.17L190.10,34.50L189.14,34.50L188.18,34.17L187.86,33.83L187.54,33.17M194.26,28.50L199.38,31.50L194.26,34.50"/>
<path stroke="#00ff78" stroke-linecap="butt" d="M52,31.5H59M60,31.5H67M68,31.5H76"/>
<path stroke="#f2ff00" d="M84.18,38.50L81.62,45.50M84.18,38.50L86.74,45.50M82.58,43.17L85.78,43.17M89.94,38.50L89.30,38.83L88.66,39.50L88.34,40.17L88.02,41.17L88.02,42.83L88.34,43.83L88.66,44.50L89.30,45.17L89.94,45.50L91.22,45.50L91.86,45.17L92.50,44.50L92.82,43.83L93.14,42.83L93.14,41.17L92.82,40.17L92.50,39.50L91.86,38.83L91.22,38.50L89.94,38.50M96.66,38.50L96.66,45.50M94.42,38.50L98.90,38.50M112.02,38.50L111.06,38.83L110.74,39.50L110.74,40.17L111.06,40.83L111.70,41.17L112.98,41.50L113.94,41.83L114.58,42.50L114.90,43.17L114.90,44.17L114.58,44.83L114.26,45.17L113.30,45.50L112.02,45.50L111.06,45.17L110.74,44.83L110.42,44.17L110.42,43.17L110.74,42.50L111.38,41.83L112.34,41.50L113.62,41.17L114.26,40.83L114.58,40.17L114.58,39.50L114.26,38.83L113.30,38.50L112.02,38.50M121.30,38.50L118.10,45.50M116.82,38.50L121.30,38.50M125.14,38.50L124.18,38.83L123.54,39.83L123.22,41.50L123.22,42.50L123.54,44.17L124.18,45.17L125.14,45.50L125.78,45.50L126.74,45.17L127.38,44.17L127.70,42.50L127.70,41.50L127.38,39.83L126.74,38.83L125.78,38.50L125.14,38.50M129.94,40.83L129.94,45.50M129.94,42.17L130.90,41.17L131.54,40.83L132.50,40.83L133.14,41.17L133.46,42.17L133.46,45.50M136.02,40.83L136.02,45.50M136.02,42.17L136.98,41.17L137.62,40.83L138.58,40.83L139.22,41.17L139.54,42.17L139.54,45.50M139.54,42.17L140.50,41.17L141.14,40.83L142.10,40.83L142.74,41.17L143.06,42.17L143.06,45.50M150.74,40.83L150.74,41.50M150.74,44.83L150.74,45.50M163.54,39.50L158.42,42.50L163.54,45.50M167.70,38.50L166.74,38.83L166.10,39.83L165.78,41.50L165.78,42.50L166.10,44.17L166.74,45.17L167.70,45.50L168.34,45.50L169.30,45.17L169.94,44.17L170.26,42.50L170.26,41.50L169.94,39.83L169.30,38.83L168.34,38.50L167.70,38.50M172.18,45.50L172.82,45.50M175.70,39.83L176.34,39.50L177.30,38.50L177.30,45.50M185.62,38.50L182.42,45.50M181.14,38.50L185.62,38.50M189.14,38.50L188.18,38.83L187.86,39.50L187.86,40.17L188.18,40.83L188.82,41.17L190.10,41.50L191.06,41.83L191.70,42.50L192.02,43.17L192.02,44.17L191.70,44.83L191.38,45.17L190.42,45.50L189.14,45.50L188.18,45.17L187.86,44.83L187.54,44.17L187.54,43.17L187.86,42.50L188.50,41.83L189.46,41.50L190.74,41.17L191.38,40.83L191.70,40.17L191.70,39.50L191.38,38.83L190.42,38.50L189.14,38.50M194.26,39.50L199.38,42.50L194.26,45.50"/>
<path stroke="#f2ff00" stroke-linecap="butt" d="M52,42.5H59M60,42.5H67M68,42.5H76"/>
<path stroke="#ff0000" d="M83.97,49.50L81.43,56.50M83.97,49.50L86.52,56.50M82.38,54.17L85.56,54.17M89.69,49.50L89.06,49.83L88.42,50.50L88.10,51.17L87.79,52.17L87.79,53.83L88.10,54.83L88.42,55.50L89.06,56.17L89.69,56.50L90.97,56.50L91.60,56.17L92.24,55.50L92.56,54.83L92.87,53.83L92.87,52.17L92.56,51.17L92.24,50.50L91.60,49.83L90.97,49.50L89.69,49.50M96.37,49.50L96.37,56.50M94.14,49.50L98.60,49.50M105.91,50.83L106.54,50.50L107.50,49.50L107.50,56.50M113.22,49.50L112.27,49.83L111.63,50.83L111.31,52.50L111.31,53.50L111.63,55.17L112.27,56.17L113.22,56.50L113.85,56.50L114.81,56.17L115.44,55.17L115.76,53.50L115.76,52.50L115.44,50.83L114.81,49.83L113.85,49.50L113.22,49.50M117.99,51.17L117.99,50.83L118.31,50.17L118.62,49.83L119.26,49.50L120.53,49.50L121.17,49.83L121.48,50.17L121.80,50.83L121.80,51.50L121.48,52.17L120.85,53.17L117.67,56.50L122.12,56.50M125.93,49.50L124.98,49.83L124.35,50.83L124.03,52.50L124.03,53.50L124.35,55.17L124.98,56.17L125.93,56.50L126.57,56.50L127.52,56.17L128.16,55.17L128.48,53.50L128.48,52.50L128.16,50.83L127.52,49.83L126.57,49.50L125.93,49.50M130.70,51.83L130.70,56.50M130.70,53.17L131.66,52.17L132.29,51.83L133.25,51.83L133.88,52.17L134.20,53.17L134.20,56.50M136.74,51.83L136.74,56.50M136.74,53.17L137.70,52.17L138.33,51.83L139.29,51.83L139.92,52.17L140.24,53.17L140.24,56.50M140.24,53.17L141.19,52.17L141.83,51.83L142.78,51.83L143.42,52.17L143.74,53.17L143.74,56.50M151.37,51.83L151.37,52.50M151.37,55.83L151.37,56.50M164.08,50.50L159.00,53.50L164.08,56.50M168.22,49.50L167.26,49.83L166.63,50.83L166.31,52.50L166.31,53.50L166.63,55.17L167.26,56.17L168.22,56.50L168.85,56.50L169.81,56.17L170.44,55.17L170.76,53.50L170.76,52.50L170.44,50.83L169.81,49.83L168.85,49.50L168.22,49.50M172.67,56.50L173.30,56.50M176.16,50.83L176.80,50.50L177.75,49.50L177.75,56.50M186.02,49.50L182.84,56.50M181.57,49.50L186.02,49.50M188.56,49.50L192.06,49.50L190.15,52.17L191.10,52.17L191.74,52.50L192.06,52.83L192.38,53.83L192.38,54.50L192.06,55.50L191.42,56.17L190.47,56.50L189.51,56.50L188.56,56.17L188.24,55.83L187.93,55.17M194.60,50.50L199.69,53.50L194.60,56.50"/>
<path stroke="#ff0000" stroke-linecap="butt" d="M52,53.5H59M60,53.5H67M68,53.5H76"/>
<path stroke="#000" d="M26.50,326.94L33.50,329.50M26.50,326.94L33.50,324.38M31.17,328.54L31.17,325.34M30.83,323.10L30.83,319.26L30.17,319.26L29.50,319.58L29.17,319.90L28.83,320.54L28.83,321.50L29.17,322.14L29.83,322.78L30.83,323.10L31.50,323.10L32.50,322.78L33.17,322.14L33.50,321.50L33.50,320.54L33.17,319.90L32.50,319.26M28.83,317.02L33.50,317.02M30.83,317.02L29.83,316.70L29.17,316.06L28.83,315.42L28.83,314.46M28.83,311.58L29.17,312.22L29.83,312.86L30.83,313.18L31.50,313.18L32.50,312.86L33.17,312.22L33.50,311.58L33.50,310.62L33.17,309.98L32.50,309.34L31.50,309.02L30.83,309.02L29.83,309.34L29.17,309.98L28.83,310.62L28.83,311.58M29.83,303.58L29.17,303.90L28.83,304.86L28.83,305.82L29.17,306.78L29.83,307.10L30.50,306.78L30.83,306.14L31.17,304.54L31.50,303.90L32.17,303.58L32.50,303.58L33.17,303.90L33.50,304.86L33.50,305.82L33.17,306.78L32.50,307.10M28.83,300.06L29.17,300.70L29.83,301.34L30.83,301.66L31.50,301.66L32.50,301.34L33.17,300.70L33.50,300.06L33.50,299.10L33.17,298.46L32.50,297.82L31.50,297.50L30.83,297.50L29.83,297.82L29.17,298.46L28.83,299.10L28.83,300.06M26.50,295.26L33.50,295.26M26.50,285.98L26.83,286.62L27.50,287.26L28.17,287.58L29.17,287.90L30.83,287.90L31.83,287.58L32.50,287.26L33.17,286.62L33.50,285.98L33.50,284.70L33.17,284.06L32.50,283.42L31.83,283.10L30.83,282.78L29.17,282.78L28.17,283.10L27.50,283.42L26.83,284.06L26.50,284.70L26.50,285.98M28.83,280.54L35.83,280.54M29.83,280.54L29.17,279.90L28.83,279.26L28.83,278.30L29.17,277.66L29.83,277.02L30.83,276.70L31.50,276.70L32.50,277.02L33.17,277.66L33.50,278.30L33.50,279.26L33.17,279.90L32.50,280.54M26.50,274.14L32.17,274.14L33.17,273.82L33.50,273.18L33.50,272.54M28.83,275.10L28.83,272.86M26.50,270.62L26.83,270.62M28.83,270.62L33.50,270.62M29.83,264.54L29.17,265.18L28.83,265.82L28.83,266.78L29.17,267.42L29.83,268.06L30.83,268.38L31.50,268.38L32.50,268.06L33.17,267.42L33.50,266.78L33.50,265.82L33.17,265.18L32.50,264.54M28.83,258.78L33.50,258.78M29.83,258.78L29.17,259.42L28.83,260.06L28.83,261.02L29.17,261.66L29.83,262.30L30.83,262.62L31.50,262.62L32.50,262.30L33.17,261.66L33.50,261.02L33.50,260.06L33.17,259.42L32.50,258.78M26.50,256.22L33.50,256.22M26.50,247.26L33.50,247.26M26.50,249.50L26.50,245.02M26.50,243.42L33.50,243.42M30.17,243.42L29.17,242.46L28.83,241.82L28.83,240.86L29.17,240.22L30.17,239.90L33.50,239.90M26.50,237.34L26.83,237.34M28.83,237.34L33.50,237.34M29.83,231.26L29.17,231.90L28.83,232.54L28.83,233.50L29.17,234.14L29.83,234.78L30.83,235.10L31.50,235.10L32.50,234.78L33.17,234.14L33.50,233.50L33.50,232.54L33.17,231.90L32.50,231.26M26.50,229.02L33.50,229.02M28.83,225.82L32.17,229.02M30.83,227.74L33.50,225.50M28.83,223.58L33.50,223.58M30.17,223.58L29.17,222.62L28.83,221.98L28.83,221.02L29.17,220.38L30.17,220.06L33.50,220.06M30.83,217.82L30.83,213.98L30.17,213.98L29.50,214.30L29.17,214.62L28.83,215.26L28.83,216.22L29.17,216.86L29.83,217.50L30.83,217.82L31.50,217.82L32.50,217.50L33.17,216.86L33.50,216.22L33.50,215.26L33.17,214.62L32.50,213.98M29.83,208.54L29.17,208.86L28.83,209.82L28.83,210.78L29.17,211.74L29.83,212.06L30.50,211.74L30.83,211.10L31.17,209.50L31.50,208.86L32.17,208.54L32.50,208.54L33.17,208.86L33.50,209.82L33.50,210.78L33.17,211.74L32.50,212.06M29.83,203.10L29.17,203.42L28.83,204.38L28.83,205.34L29.17,206.30L29.83,206.62L30.50,206.30L30.83,205.66L31.17,204.06L31.50,203.42L32.17,203.10L32.50,203.10L33.17,203.42L33.50,204.38L33.50,205.34L33.17,206.30L32.50,206.62"/></g>
</svg>
</body></html>
